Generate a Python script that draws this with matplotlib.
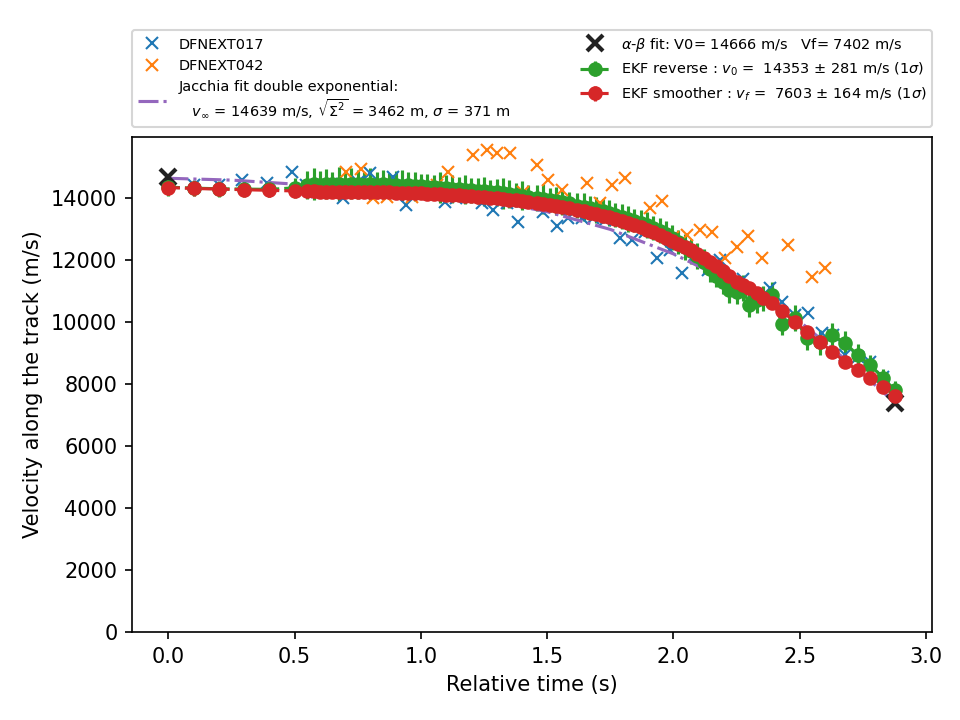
import numpy as np
import matplotlib
matplotlib.use('Agg')
import matplotlib.pyplot as plt

# camera observations (relative time in s, velocity in m/s)
t_017 = [0.1, 0.2, 0.29, 0.39, 0.49, 0.547, 0.59, 0.646, 0.69, 0.75,
         0.797, 0.844, 0.888, 0.943, 0.987, 1.094, 1.141, 1.185, 1.241, 1.284,
         1.34, 1.383, 1.482, 1.538, 1.581, 1.637, 1.68, 1.728, 1.788, 1.835,
         1.887, 1.934, 1.986, 2.033, 2.085, 2.136, 2.184, 2.275, 2.382, 2.43,
         2.48, 2.533, 2.588, 2.632, 2.679, 2.73, 2.778, 2.83]
v_017 = [14420, 14420, 14580, 14480, 14840, 14420, 14190, 14450, 14000, 14520,
         14800, 14360, 14680, 13780, 14160, 13870, 14000, 14160, 13840, 13610,
         13840, 13230, 13550, 13100, 13360, 13360, 13360, 13290, 12710, 12650,
         12900, 12080, 12320, 11580, 12160, 11680, 12000, 11400, 11100, 10650,
         10230, 10290, 9650, 9580, 8930, 8870, 8710, 8230]

t_042 = [0.658, 0.705, 0.762, 0.809, 0.864, 0.963, 1.007, 1.062, 1.106, 1.205,
         1.26, 1.30, 1.352, 1.403, 1.458, 1.502, 1.558, 1.657, 1.708, 1.756,
         1.807, 1.847, 1.906, 1.954, 1.998, 2.053, 2.105, 2.152, 2.204, 2.251,
         2.295, 2.35, 2.453, 2.548, 2.6]
v_042 = [14230, 14840, 14950, 14000, 14030, 14030, 14260, 14420, 14840, 15390,
         15550, 15450, 15450, 14190, 15060, 14580, 14260, 14480, 13840, 14420,
         14650, 13130, 13680, 13900, 12740, 12810, 12970, 12900, 12070, 12420,
         12770, 12070, 12480, 11450, 11740]

# Jacchia double exponential fit
t_jac = [0.0, 0.25, 0.5, 0.75, 1.0, 1.25, 1.5, 1.75, 2.0, 2.25, 2.5, 2.75, 2.88]
v_jac = [14639, 14580, 14450, 14330, 14210, 13950, 13560, 12990, 12200, 11200,
         10020, 8320, 7380]

# alpha-beta fit end points
t_ab = [0.0, 2.877]
v_ab = [14666, 7402]

# EKF
t_ekf = [0.0, 0.1, 0.2, 0.3, 0.4, 0.5,
         0.55, 0.575, 0.6, 0.625, 0.65, 0.675, 0.7, 0.725, 0.75, 0.775,
         0.8, 0.825, 0.85, 0.875, 0.9, 0.925, 0.95, 0.975, 1.0, 1.025,
         1.05, 1.075, 1.1, 1.125, 1.15, 1.175, 1.2, 1.225, 1.25, 1.275,
         1.3, 1.325, 1.35, 1.375, 1.4, 1.425,
         1.46, 1.485, 1.51, 1.535, 1.56, 1.585,
         1.62, 1.645, 1.67, 1.695, 1.72, 1.745, 1.77, 1.795, 1.82, 1.845,
         1.87, 1.895, 1.92, 1.945, 1.97, 1.995, 2.02, 2.045, 2.07, 2.095,
         2.12, 2.145, 2.17, 2.195, 2.22,
         2.25, 2.275, 2.3, 2.33, 2.355, 2.39, 2.43, 2.48, 2.53, 2.58,
         2.63, 2.68, 2.73, 2.78, 2.83, 2.877]

v_rev = [14353, 14320, 14300, 14290, 14280, 14330,
         14420, 14450, 14430, 14460, 14440, 14450, 14420, 14460, 14440, 14430,
         14450, 14420, 14440, 14410, 14420, 14400, 14410, 14380, 14390, 14360,
         14350, 14330, 14320, 14300, 14290, 14270, 14250, 14240, 14220, 14200,
         14180, 14150, 14130, 14100, 14080, 14050,
         14000, 13980, 13940, 13910, 13870, 13830,
         13760, 13720, 13680, 13620, 13580, 13520, 13460, 13400, 13340, 13270,
         13200, 13120, 13040, 12950, 12850, 12720, 12580, 12430, 12280, 12130,
         11950, 11700, 11500, 11300, 11030,
         10970, 11100, 10550, 10700, 10770, 10870, 9950, 10130, 9480, 9350,
         9580, 9320, 8935, 8613, 8194, 7806]
e_rev = [281, 260, 250, 250, 250, 330,
         450, 520, 430, 480, 400, 550, 420, 500, 460, 400,
         520, 430, 480, 400, 450, 500, 420, 460, 400, 430,
         380, 500, 420, 450, 380, 470, 400, 420, 460, 380,
         420, 500, 440, 400, 470, 380,
         420, 480, 400, 450, 420, 380,
         400, 450, 380, 420, 400, 430, 380, 400, 420, 380,
         400, 420, 380, 400, 420, 400, 380, 420, 400, 420,
         400, 420, 380, 400, 420,
         400, 420, 400, 420, 400, 420, 380, 420, 380, 400,
         380, 380, 360, 340, 300, 281]

v_smo = [14340, 14310, 14290, 14270, 14250, 14230,
         14220, 14215, 14210, 14205, 14200, 14200, 14195, 14195, 14190, 14190,
         14185, 14185, 14180, 14180, 14175, 14170, 14165, 14160, 14155, 14145,
         14135, 14125, 14115, 14105, 14095, 14080, 14065, 14050, 14035, 14015,
         13995, 13975, 13950, 13925, 13900, 13875,
         13840, 13810, 13780, 13745, 13710, 13675,
         13620, 13580, 13530, 13480, 13430, 13380, 13320, 13260, 13200, 13130,
         13060, 12980, 12900, 12810, 12720, 12630, 12530, 12430, 12320, 12200,
         12080, 11950, 11800, 11650, 11480,
         11300, 11200, 11090, 10930, 10780, 10610, 10360, 10010, 9680, 9360,
         9040, 8720, 8440, 8180, 7900, 7603]
e_smo = [240, 230, 220, 215, 210, 205,
         200, 200, 200, 200, 200, 200, 200, 200, 200, 200,
         200, 200, 200, 200, 200, 200, 200, 200, 200, 200,
         195, 195, 195, 195, 195, 195, 195, 195, 195, 195,
         195, 195, 195, 195, 195, 195,
         190, 190, 190, 190, 190, 190,
         190, 190, 190, 190, 190, 190, 190, 190, 190, 190,
         185, 185, 185, 185, 185, 185, 185, 185, 185, 185,
         180, 180, 180, 180, 180,
         180, 180, 180, 180, 180, 180, 180, 180, 180, 180,
         175, 175, 170, 170, 168, 164]

fig = plt.figure(figsize=(6.4, 4.8), dpi=150)
ax = fig.add_axes([0.1375, 0.1222, 0.8333, 0.6875])

ax.errorbar(t_ekf, v_rev, yerr=e_rev, fmt='o--', color='C2', ms=6,
            label='EKF reverse : $v_0$ =  14353 $\\pm$ 281 m/s (1$\\sigma$)')
ax.errorbar(t_ekf, v_smo, yerr=e_smo, fmt='o--', color='C3', ms=6,
            label='EKF smoother : $v_f$ =  7603 $\\pm$ 164 m/s (1$\\sigma$)')

ax.plot(t_017, v_017, 'x', color='C0', label='DFNEXT017')
ax.plot(t_042, v_042, 'x', color='C1', label='DFNEXT042')
ax.plot(t_jac, v_jac, '-.', color='C4',
        label='Jacchia fit double exponential:\n   $v_{\\infty}$ = 14639 m/s, '
              '$\\sqrt{\\Sigma^2}$ = 3462 m, $\\sigma$ = 371 m')
ax.plot(t_ab, v_ab, 'x', color='#222222', ms=8, mew=2,
        label='$\\alpha$-$\\beta$ fit: V0= 14666 m/s   Vf= 7402 m/s')

ax.set_xlim(-0.144, 3.024)
ax.set_ylim(0, 15970)
ax.set_xlabel('Relative time (s)')
ax.set_ylabel('Velocity along the track (m/s)')

ax.legend(bbox_to_anchor=(0., 1.02, 1., 0.2), loc='lower left', ncol=2,
          mode='expand', borderaxespad=0., fontsize='x-small')

fig.savefig('out.png', dpi=150)
